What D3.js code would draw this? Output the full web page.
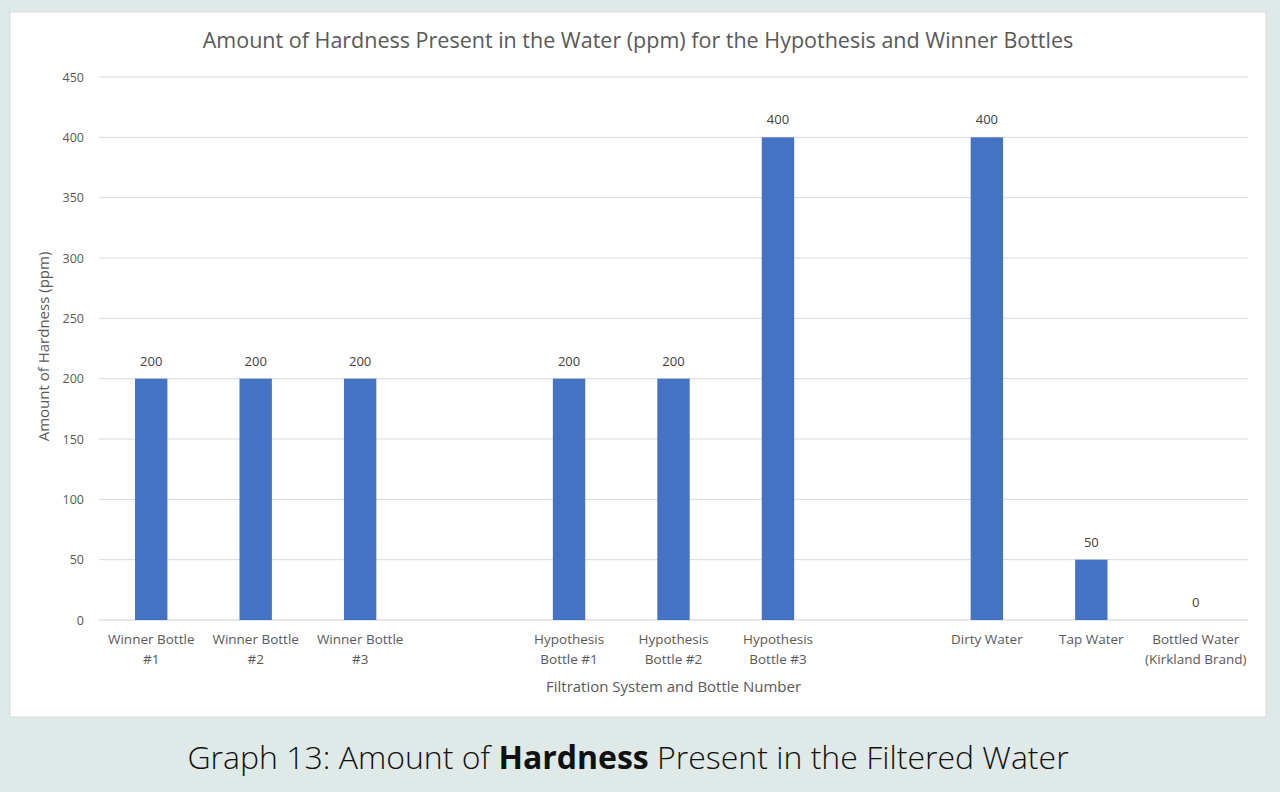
<!DOCTYPE html>
<html>
<head>
<meta charset="utf-8">
<script src="https://cdn.jsdelivr.net/npm/d3@7"></script>
<style>
  body { margin: 0; background: #dfe9e8; }
  svg { display: block; }
</style>
</head>
<body>
<svg id="chart" width="1280" height="792"></svg>
<script>
// Chart data
const categories = [
  "Winner Bottle\n#1", "Winner Bottle\n#2", "Winner Bottle\n#3", "",
  "Hypothesis\nBottle #1", "Hypothesis\nBottle #2", "Hypothesis\nBottle #3", "",
  "Dirty Water", "Tap Water", "Bottled Water\n(Kirkland Brand)"
];
const hardness = [200, 200, 200, null, 200, 200, 400, null, 400, 50, 0];
const yTicks = [0, 50, 100, 150, 200, 250, 300, 350, 400, 450];

const svg = d3.select("#chart");
const font = "'Open Sans', 'Noto Sans', sans-serif";

// white chart panel
svg.append("rect")
  .attr("x", 10).attr("y", 12).attr("width", 1256).attr("height", 705)
  .attr("fill", "#fff").attr("stroke", "#d4dcdb");

const plot = { left: 99, right: 1248, top: 77, bottom: 620 };

// use slot index so the blank spacer slots stay unique
const x = d3.scaleBand()
  .domain(categories.map((c, i) => i))
  .range([plot.left, plot.right])
  .paddingInner(0.69).paddingOuter(0.345);

const y = d3.scaleLinear().domain([0, 450]).range([plot.bottom, plot.top]);

// gridlines
svg.append("g")
  .selectAll("line")
  .data(yTicks)
  .join("line")
  .attr("x1", plot.left).attr("x2", plot.right)
  .attr("y1", d => y(d)).attr("y2", d => y(d))
  .attr("stroke", d => d === 0 ? "#d0d0d0" : "#d9d9d9")
  .attr("stroke-width", 1);

// y axis labels
const yAxis = svg.append("g")
  .attr("transform", `translate(${plot.left},0)`)
  .call(d3.axisLeft(y).tickValues(yTicks).tickSize(0).tickPadding(15));
yAxis.select(".domain").remove();
yAxis.selectAll("text")
  .attr("font-family", font).attr("font-size", 12.5).attr("fill", "#595959");

// bars
const rows = categories.map((c, i) => ({ i, label: c, value: hardness[i] }))
  .filter(d => d.value !== null);

svg.append("g")
  .selectAll("rect")
  .data(rows)
  .join("rect")
  .attr("x", d => x(d.i))
  .attr("y", d => y(d.value))
  .attr("width", x.bandwidth())
  .attr("height", d => y(0) - y(d.value))
  .attr("fill", "#4472c4");

// value labels
svg.append("g")
  .selectAll("text")
  .data(rows)
  .join("text")
  .attr("x", d => x(d.i) + x.bandwidth() / 2)
  .attr("y", d => y(d.value) - 13)
  .attr("text-anchor", "middle")
  .attr("font-family", font).attr("font-size", 13).attr("fill", "#404040")
  .text(d => d.value);

// category labels (two lines)
const xAxis = svg.append("g")
  .attr("transform", `translate(0,${plot.bottom})`)
  .call(d3.axisBottom(x).tickSize(0).tickFormat(""));
xAxis.select(".domain").remove();

xAxis.selectAll(".tick").each(function(i) {
  const lines = categories[i].split("\n");
  const t = d3.select(this).append("text")
    .attr("text-anchor", "middle")
    .attr("font-family", font).attr("font-size", 13.5).attr("fill", "#595959");
  lines.forEach((ln, k) => {
    t.append("tspan").attr("x", 0).attr("y", 24 + k * 20).text(ln);
  });
});

// chart title
svg.append("text")
  .attr("x", 638).attr("y", 48)
  .attr("text-anchor", "middle")
  .attr("font-family", font).attr("font-size", 21.5).attr("fill", "#595959")
  .text("Amount of Hardness Present in the Water (ppm) for the Hypothesis and Winner Bottles");

// axis titles
svg.append("text")
  .attr("x", (plot.left + plot.right) / 2).attr("y", 692)
  .attr("text-anchor", "middle")
  .attr("font-family", font).attr("font-size", 15).attr("fill", "#595959")
  .text("Filtration System and Bottle Number");

svg.append("text")
  .attr("transform", `translate(49,${(plot.top + plot.bottom) / 2 - 2}) rotate(-90)`)
  .attr("text-anchor", "middle")
  .attr("font-family", font).attr("font-size", 15).attr("fill", "#595959")
  .text("Amount of Hardness (ppm)");

// caption below the panel
const cap = svg.append("text")
  .attr("x", 628).attr("y", 769)
  .attr("text-anchor", "middle")
  .attr("font-family", font).attr("font-size", 32).attr("font-weight", 300)
  .attr("fill", "#111");
cap.append("tspan").text("Graph 13: Amount of ");
cap.append("tspan").attr("font-weight", 700).text("Hardness");
cap.append("tspan").text(" Present in the Filtered Water");
</script>
</body>
</html>
